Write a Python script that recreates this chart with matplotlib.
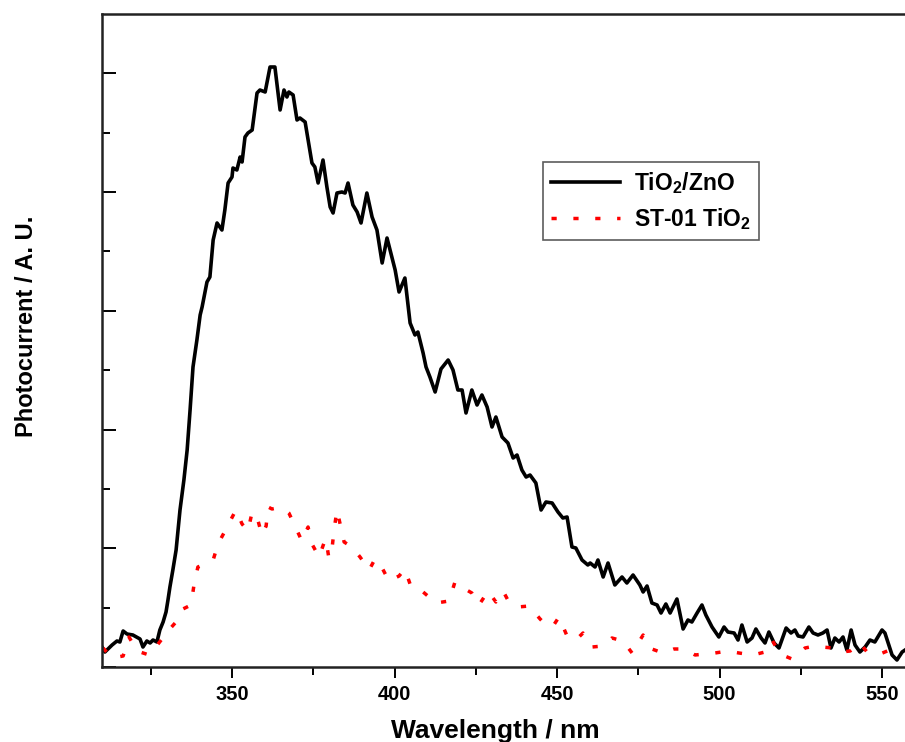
import matplotlib
matplotlib.use("Agg")
import matplotlib.pyplot as plt
from matplotlib.ticker import MultipleLocator, NullFormatter

plt.rcParams['font.family'] = ['Liberation Sans', 'DejaVu Sans']
plt.rcParams['mathtext.fontset'] = 'custom'
plt.rcParams['mathtext.rm'] = 'Liberation Sans'
plt.rcParams['mathtext.bf'] = 'Liberation Sans:bold'

# TiO2/ZnO photocurrent spectrum (wavelength in nm, photocurrent in A.U.)
wl_tz = [310.0, 310.9, 313.1, 314.6, 315.5, 316.5, 317.7, 319.5, 321.7, 322.6,
         323.8, 324.8, 325.7, 326.9, 327.8, 328.8, 329.7, 330.3, 330.9, 331.8,
         332.8, 334.0, 335.2, 336.2, 337.1, 338.0, 339.2, 340.2, 340.8, 342.3,
         343.2, 344.2, 345.4, 346.9, 347.8, 348.8, 350.0, 350.3, 351.5, 352.5,
         353.1, 354.0, 354.9, 356.2, 357.7, 358.6, 360.2, 361.7, 363.2, 364.8,
         366.0, 366.9, 367.5, 368.8, 370.0, 370.9, 372.5, 374.6, 375.5, 376.5,
         378.0, 379.2, 380.2, 381.1, 382.3, 383.8, 384.8, 385.7, 387.2, 388.5,
         389.7, 391.5, 393.1, 394.6, 396.2, 397.7, 399.2, 400.2, 401.4, 403.2,
         404.8, 406.3, 407.2, 408.8, 409.7, 410.9, 412.5, 414.3, 416.5, 418.0,
         419.5, 420.8, 422.0, 423.8, 425.4, 426.9, 428.5, 430.0, 431.2, 433.1,
         434.9, 436.5, 437.7, 439.2, 440.5, 441.7, 443.5, 445.1, 446.6, 448.5,
         450.3, 451.8, 453.1, 454.6, 455.8, 457.7, 459.5, 460.2, 461.7, 462.6,
         464.2, 465.7, 467.8, 470.0, 471.5, 473.4, 475.5, 476.5, 477.7, 479.2,
         480.8, 482.0, 483.5, 484.8, 486.9, 488.8, 490.3, 491.5, 493.1, 494.6,
         495.8, 497.7, 499.8, 501.4, 502.6, 504.5, 505.7, 506.9, 508.5, 510.0,
         511.2, 512.8, 514.0, 515.2, 516.8, 518.3, 520.5, 522.0, 523.2, 524.2,
         525.7, 527.5, 528.8, 530.3, 531.8, 533.1, 534.3, 535.5, 536.8, 538.0,
         539.2, 540.5, 541.7, 543.2, 544.8, 546.3, 547.8, 550.0, 550.9, 553.1,
         554.6, 556.2, 557.1]
pc_tz = [20, 15, 22, 26, 25, 36, 33, 32, 28, 20,
         26, 24, 27, 25, 37, 45, 55, 67, 80, 97,
         117, 157, 187, 217, 257, 300, 327, 352, 360, 385,
         390, 427, 444, 437, 457, 484, 490, 499, 497, 510,
         505, 530, 534, 537, 574, 577, 575, 600, 600, 557,
         577, 570, 575, 572, 547, 549, 545, 504, 500, 484,
         507, 480, 460, 454, 474, 475, 474, 484, 462, 455,
         444, 474, 450, 437, 404, 429, 410, 397, 375, 389,
         344, 332, 335, 314, 300, 290, 275, 298, 307, 297,
         277, 277, 254, 277, 262, 272, 260, 240, 250, 230,
         224, 209, 212, 197, 190, 192, 184, 157, 165, 164,
         155, 149, 150, 120, 119, 107, 102, 104, 100, 107,
         90, 104, 82, 90, 84, 92, 82, 75, 81, 64,
         62, 54, 63, 54, 68, 38, 47, 45, 54, 62,
         52, 40, 30, 40, 35, 34, 27, 42, 25, 29,
         38, 29, 24, 35, 24, 19, 39, 34, 37, 31,
         30, 40, 34, 32, 34, 37, 19, 29, 25, 30,
         17, 37, 22, 15, 20, 27, 25, 37, 34, 12,
         7, 15, 17]

# ST-01 TiO2 photocurrent spectrum
wl_st = [310.3, 313.1, 316.5, 318.3, 320.8, 324.5, 327.5, 330.6, 332.5, 334.9,
         337.4, 338.3, 339.5, 342.3, 344.2, 345.7, 348.5, 351.2, 353.1, 354.9,
         356.2, 357.7, 359.2, 360.5, 361.1, 362.3, 363.8, 365.7, 367.5, 369.1,
         371.5, 373.4, 374.6, 376.8, 378.3, 378.9, 379.8, 380.8, 381.4, 382.3,
         383.2, 384.5, 386.9, 389.4, 392.2, 394.0, 396.2, 398.3, 401.4, 403.2,
         405.1, 406.3, 408.8, 412.8, 416.8, 418.6, 421.7, 423.8, 426.0, 428.8,
         431.2, 433.4, 435.2, 438.0, 441.4, 444.8, 446.9, 448.8, 450.6, 453.1,
         455.8, 458.0, 460.8, 464.2, 466.9, 470.3, 473.1, 476.5, 479.2, 482.6,
         486.0, 489.1, 492.5, 495.5, 498.6, 502.6, 506.0, 510.3, 514.0, 516.2,
         518.6, 522.3, 526.3, 529.4, 531.5, 534.9, 537.4, 540.2, 543.2, 545.4,
         549.4, 553.1, 555.5]
pc_st = [19, 9, 11, 30, 16, 12, 24, 37, 44, 58,
         62, 82, 100, 104, 107, 123, 140, 157, 143, 136,
         155, 150, 132, 141, 160, 158, 159, 159, 154, 143,
         126, 140, 123, 110, 124, 128, 109, 119, 137, 157,
         144, 125, 120, 110, 97, 108, 99, 86, 91, 98,
         80, 78, 75, 64, 66, 85, 78, 74, 62, 76,
         65, 76, 65, 60, 61, 48, 41, 41, 50, 31,
         27, 34, 20, 21, 29, 26, 14, 32, 18, 14,
         18, 18, 12, 13, 14, 16, 14, 12, 15, 27,
         13, 8, 19, 21, 20, 19, 15, 16, 24, 15,
         13, 18, 14]

fig = plt.figure(figsize=(9.05, 7.42), dpi=100)
ax = fig.add_axes([102 / 905, 75 / 742, 812.5 / 905, 653 / 742])

ax.plot(wl_tz, pc_tz, color='black', lw=2.6, label=r'TiO$_\mathbf{2}$/ZnO')
ax.plot(wl_st, pc_st, color='red', lw=2.5, dashes=(1.5, 4.8),
        label=r'ST-01 TiO$_\mathbf{2}$')

ax.set_xlim(310, 560)
ax.set_ylim(0, 653)
ax.xaxis.set_major_locator(MultipleLocator(50))
ax.xaxis.set_minor_locator(MultipleLocator(25))
ax.yaxis.set_major_locator(MultipleLocator(118.75))
ax.yaxis.set_minor_locator(MultipleLocator(59.375))
ax.yaxis.set_major_formatter(NullFormatter())

ax.tick_params(axis='x', which='both', direction='out', top=False,
               labelsize=14.5, width=1.4, pad=5)
ax.tick_params(axis='x', which='major', length=8)
ax.tick_params(axis='x', which='minor', length=6)
ax.tick_params(axis='y', which='both', direction='in', right=False, width=1.4)
ax.tick_params(axis='y', which='major', length=10)
ax.tick_params(axis='y', which='minor', length=6)
for lbl in ax.get_xticklabels():
    lbl.set_fontweight('bold')
for s in ax.spines.values():
    s.set_linewidth(1.8)
    s.set_color('#222222')

ax.set_xlabel('Wavelength / nm', fontsize=19, fontweight='bold', va='top')
ax.xaxis.set_label_coords(0.484, -0.08)
ax.set_ylabel('Photocurrent / A. U.', fontsize=17, fontweight='bold')
ax.yaxis.set_label_coords(-0.079, 0.522)

leg = ax.legend(loc='upper left', bbox_to_anchor=(543 / 905, 1 - 162 / 742),
                bbox_transform=fig.transFigure, frameon=True, fancybox=False,
                prop={'size': 16.5, 'weight': 'bold'}, handlelength=3.0,
                handletextpad=0.6, borderpad=0.35, labelspacing=0.45,
                borderaxespad=0)
leg.get_frame().set_edgecolor('#333333')
leg.get_frame().set_linewidth(1.2)

fig.savefig('out.png', dpi=100)
